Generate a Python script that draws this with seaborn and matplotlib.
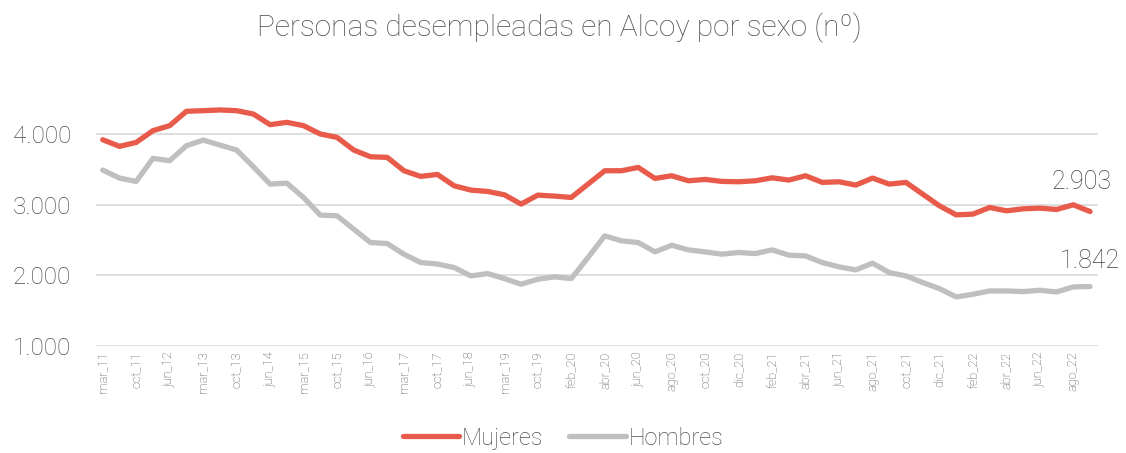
import pandas as pd
import matplotlib.pyplot as plt
import seaborn as sns

sns.set_theme(style="white")
plt.rcParams["font.family"] = ["Roboto", "DejaVu Sans"]

# periodos (solo los pares llevan etiqueta visible)
periodos = [
    "mar_11", "jun_11", "oct_11", "feb_12", "jun_12", "oct_12", "mar_13", "jun_13",
    "oct_13", "feb_14", "jun_14", "oct_14", "mar_15", "jun_15", "oct_15", "feb_16",
    "jun_16", "oct_16", "mar_17", "jun_17", "oct_17", "feb_18", "jun_18", "oct_18",
    "mar_19", "jun_19", "oct_19", "dic_19", "feb_20", "mar_20", "abr_20", "may_20",
    "jun_20", "jul_20", "ago_20", "sep_20", "oct_20", "nov_20", "dic_20", "ene_21",
    "feb_21", "mar_21", "abr_21", "may_21", "jun_21", "jul_21", "ago_21", "sep_21",
    "oct_21", "nov_21", "dic_21", "ene_22", "feb_22", "mar_22", "abr_22", "may_22",
    "jun_22", "jul_22", "ago_22", "sep_22",
]

mujeres = [
    3919, 3825, 3881, 4047, 4118, 4321, 4330, 4340, 4330, 4283,
    4132, 4165, 4118, 4000, 3952, 3773, 3678, 3669, 3480, 3400,
    3428, 3267, 3206, 3187, 3140, 3008, 3135, 3121, 3102, 3291,
    3480, 3480, 3527, 3371, 3409, 3338, 3357, 3329, 3324, 3338,
    3380, 3348, 3409, 3315, 3324, 3277, 3376, 3291, 3315, 3149,
    2984, 2856, 2866, 2960, 2913, 2941, 2951, 2932, 2998, 2903,
]

hombres = [
    3489, 3376, 3329, 3655, 3622, 3834, 3914, 3844, 3773, 3537,
    3291, 3305, 3102, 2852, 2843, 2653, 2464, 2450, 2299, 2181,
    2160, 2110, 1992, 2025, 1954, 1874, 1945, 1978, 1954, 2252,
    2559, 2488, 2464, 2332, 2426, 2360, 2332, 2299, 2323, 2308,
    2360, 2285, 2275, 2181, 2120, 2077, 2172, 2039, 1992, 1898,
    1812, 1694, 1732, 1779, 1779, 1770, 1789, 1765, 1836, 1842,
]

ROJO = "#E85A4A"
GRIS = "#BFBFBF"
TEXTO = "#4F4F4F"

df = pd.DataFrame({
    "idx": list(range(len(periodos))) * 2,
    "valor": mujeres + hombres,
    "sexo": ["Mujeres"] * len(mujeres) + ["Hombres"] * len(hombres),
})

fig = plt.figure(figsize=(11.26, 4.53), dpi=100)
ax = fig.add_axes([0.0853, 0.2362, 0.8899, 0.5616])

sns.lineplot(data=df, x="idx", y="valor", hue="sexo",
             palette={"Mujeres": ROJO, "Hombres": GRIS},
             linewidth=3.8, ax=ax, legend=True)
for ln in ax.lines:
    ln.set_solid_capstyle("round")
    ln.set_solid_joinstyle("round")

ax.set_ylim(1000, 4600)
ax.set_xlim(-0.4, len(periodos) - 0.52)
ax.set_yticks([1000, 2000, 3000, 4000])
ax.set_yticklabels(["1.000", "2.000", "3.000", "4.000"])
ax.set_xticks(range(0, len(periodos), 2))
ax.set_xticklabels(periodos[::2], rotation=90)
ax.tick_params(axis="y", labelsize=17.5, labelcolor=TEXTO, pad=18, length=0)
ax.tick_params(axis="x", labelsize=9.2, labelcolor=TEXTO, pad=4, length=0)
for lab in ax.get_xticklabels() + ax.get_yticklabels():
    lab.set_fontweight("light")
ax.set_xlabel("")
ax.set_ylabel("")

ax.grid(axis="y", color="#D9D9D9", linewidth=1.2)
ax.set_axisbelow(True)
for s in ["top", "right", "left", "bottom"]:
    ax.spines[s].set_visible(False)

# etiquetas del ultimo valor
ax.annotate("2.903", xy=(len(periodos) - 1, mujeres[-1]), xytext=(-6, 21),
            textcoords="offset points", ha="center", va="center",
            fontsize=18, color="#404040", fontweight="light")
ax.annotate("1.842", xy=(len(periodos) - 1, hombres[-1]), xytext=(0, 18),
            textcoords="offset points", ha="center", va="center",
            fontsize=18, color="#404040", fontweight="light")

fig.text(0.497, 0.938, "Personas desempleadas en Alcoy por sexo (nº)",
         ha="center", va="center", fontsize=21.5, color=TEXTO, fontweight="light")

ax.legend_.remove()
leg = fig.legend(*ax.get_legend_handles_labels(), loc="center",
                 bbox_to_anchor=(0.5, 0.033), ncol=2, frameon=False,
                 fontsize=17, handlelength=2.4, handletextpad=0.1,
                 columnspacing=1.1, labelcolor=TEXTO)
for t in leg.get_texts():
    t.set_fontweight("light")
for h in leg.get_lines():
    h.set_linewidth(3.8)
    h.set_solid_capstyle("round")

fig.savefig("out.png", dpi=100)
